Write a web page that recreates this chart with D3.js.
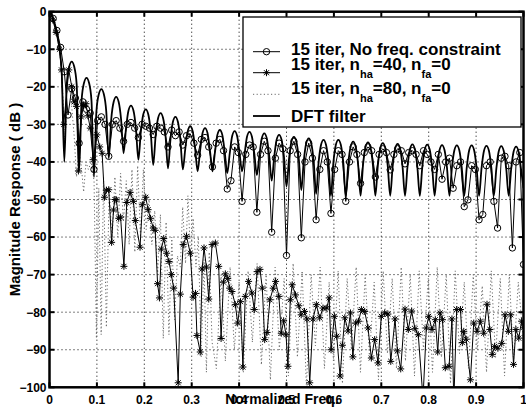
<!DOCTYPE html>
<html>
<head>
<meta charset="utf-8">
<script src="https://cdn.jsdelivr.net/npm/d3@7"></script>
<style>
body { margin: 0; background: #fff; }
svg { display: block; font-family: "Liberation Sans", Arial, Helvetica, sans-serif; font-weight: bold; }
</style>
</head>
<body>
<svg id="chart" width="526" height="409"></svg>
<script>
// axis ticks
const xTicks = [0, 0.1, 0.2, 0.3, 0.4, 0.5, 0.6, 0.7, 0.8, 0.9, 1];
const xTickLabels = ["0", "0.1", "0.2", "0.3", "0.4", "0.5", "0.6", "0.7", "0.8", "0.9", "1"];
const yTicks = [0, -10, -20, -30, -40, -50, -60, -70, -80, -90, -100];
const yTickLabels = ["0", "\u221210", "\u221220", "\u221230", "\u221240", "\u221250", "\u221260", "\u221270", "\u221280", "\u221290", "\u2212100"];

// DFT filter, sampled on a 1/192 grid
const dftDb = [
  0, -0.8, -3, -5.5, -9.5, -17,
  -40, -19.3, -14.6, -13.3, -14.6, -19.3,
  -42.4, -23.6, -18.9, -17.6, -18.9, -23.6,
  -44, -26.6, -21.9, -20.6, -21.9, -26.6,
  -39, -28.7, -24, -22.7, -24, -28.7,
  -37.7, -31, -26.3, -25, -26.3, -31,
  -39.4, -32, -27.3, -26, -27.3, -32,
  -40.8, -33, -28.3, -27, -28.3, -33,
  -41.7, -34, -29.3, -28, -29.3, -34,
  -42, -36.5, -31.8, -30.5, -31.8, -36.5,
  -42.5, -37, -32.3, -31, -32.3, -37,
  -42.5, -37.5, -32.8, -31.5, -32.8, -37.5,
  -43, -37.8, -33.1, -31.8, -33.1, -37.8,
  -42.5, -38, -33.3, -32, -33.3, -38,
  -43.5, -38.4, -33.7, -32.4, -33.7, -38.4,
  -45, -38.8, -34.1, -32.8, -34.1, -38.8,
  -46.5, -39.3, -34.6, -33.3, -34.6, -39.3,
  -47.5, -39.7, -35, -33.7, -35, -39.7,
  -48.5, -40.1, -35.4, -34.1, -35.4, -40.1,
  -49, -40.1, -35.4, -34.1, -35.4, -40.1,
  -49, -40.6, -35.9, -34.6, -35.9, -40.6,
  -49, -40.8, -36.1, -34.8, -36.1, -40.8,
  -49, -41, -36.3, -35, -36.3, -41,
  -49, -41.2, -36.5, -35.2, -36.5, -41.2,
  -49, -41.3, -36.6, -35.3, -36.6, -41.3,
  -49, -41.4, -36.7, -35.4, -36.7, -41.4,
  -49, -41.5, -36.8, -35.5, -36.8, -41.5,
  -49, -41.6, -36.9, -35.6, -36.9, -41.6,
  -49, -41.6, -36.9, -35.6, -36.9, -41.6,
  -49, -41.7, -37, -35.7, -37, -41.7,
  -49, -41.8, -37.1, -35.8, -37.1, -41.8,
  -49, -41.9, -37.2, -35.9, -37.2, -41.9,
  -47
];
const dftF = d3.range(dftDb.length).map(j => j / 192);

// 15 iter, no freq. constraint (circles), 1/128 grid
const circDb = [
  0, -1.8, -5, -9.5, -16, -27.5, -20.5, -23, -35, -24, -26, -27, -42, -29, -28, -30,
  -38.5, -30, -29, -31, -34.5, -30, -29.5, -31, -33.5, -30, -30.5, -31, -32.7, -30.5, -31, -32,
  -36, -31.5, -33, -32, -35.5, -33, -32.5, -35, -38.2, -34, -33.5, -36, -41.3, -35, -34, -37,
  -47.2, -45, -36, -37.5, -50.5, -38, -35.5, -36, -53.4, -38, -34.5, -37, -58.7, -39, -35, -36.5,
  -64.9, -37, -34.5, -38, -60.2, -40, -35, -39, -55.4, -42, -37, -40, -53.7, -42, -37, -38,
  -50.5, -40, -36, -38, -45.7, -37.5, -36, -37, -44, -38, -36.5, -37.5, -42.1, -38, -36.5, -37,
  -40.5, -37.5, -37, -38, -41, -37, -38, -40, -42, -38, -44.6, -40, -39, -47, -41, -40,
  -51.9, -50.1, -41, -42, -55.4, -54, -41, -40, -50.5, -57.6, -39, -38.5, -41, -62.9, -40, -37.5,
  -67.3
];
const circF = d3.range(circDb.length).map(k => k / 128);

// 15 iter, n_ha=40, n_fa=0 (stars)
const starF = [
  0, 0.007, 0.014, 0.021, 0.0253, 0.030, 0.0407, 0.047, 0.052, 0.057, 0.061, 0.067, 0.072, 0.077, 0.081, 0.086,
  0.092, 0.1, 0.106, 0.111, 0.116, 0.12, 0.125, 0.131, 0.135, 0.138, 0.141, 0.146, 0.15, 0.157, 0.163, 0.17,
  0.177, 0.181, 0.191, 0.196, 0.203, 0.208, 0.213, 0.219, 0.223, 0.228, 0.232, 0.236, 0.241, 0.247, 0.252, 0.257,
  0.262, 0.2715, 0.276, 0.282, 0.289, 0.297, 0.303, 0.308, 0.311, 0.318, 0.322, 0.326, 0.331, 0.336, 0.343, 0.35,
  0.357, 0.362, 0.367, 0.371, 0.376, 0.38, 0.385, 0.392, 0.397, 0.403, 0.408, 0.413, 0.42, 0.427, 0.432, 0.438,
  0.444, 0.449, 0.454, 0.459, 0.465, 0.472, 0.477, 0.484, 0.489, 0.494, 0.499, 0.503, 0.508, 0.512, 0.519, 0.526,
  0.531, 0.538, 0.543, 0.549, 0.556, 0.563, 0.57, 0.577, 0.585, 0.59, 0.594, 0.601, 0.606, 0.613, 0.618, 0.623,
  0.63, 0.635, 0.64, 0.646, 0.652, 0.658, 0.665, 0.672, 0.679, 0.686, 0.693, 0.7, 0.707, 0.714, 0.72, 0.729,
  0.734, 0.741, 0.75, 0.757, 0.764, 0.771, 0.778, 0.788, 0.795, 0.8, 0.807, 0.814, 0.819, 0.824, 0.829, 0.835,
  0.843, 0.849, 0.853, 0.859, 0.867, 0.871, 0.874, 0.879, 0.888, 0.895, 0.902, 0.909, 0.916, 0.923, 0.929, 0.934,
  0.939, 0.946, 0.954, 0.961, 0.968, 0.973, 0.979, 0.984, 0.99, 0.996, 1
];
const starDb = [
  0, -2.2, -5.5, -10, -15.5, -30, -15.5, -20, -24, -25.2, -42.4, -28, -25, -24.5, -27.7, -31,
  -39.4, -32.8, -36, -37.7, -49.4, -47.5, -47.4, -61.4, -52.8, -50, -50.1, -55, -54.7, -67.8, -50.8, -48.1,
  -50.5, -55.6, -62.7, -51.4, -49.4, -52.7, -55, -57.6, -58.2, -72.4, -76.2, -63.2, -60.4, -64.3, -66.5, -70,
  -73.6, -98.8, -75.2, -62, -59.8, -64.3, -76, -75, -86.2, -90.6, -68.5, -62.9, -68, -76.5, -62, -61.6,
  -67.8, -87, -72, -69.8, -71, -73.6, -74.5, -78, -82.9, -77.2, -94.6, -75.8, -71.8, -74.9, -79.3, -69.2,
  -68.6, -73.6, -87.3, -85.4, -76.7, -73.6, -71.8, -75.8, -85.6, -82.3, -86, -94.4, -76.7, -72.7, -75.4, -78.3,
  -80.7, -79.8, -81.8, -98.8, -81.8, -78, -81.5, -78.9, -78.9, -76.2, -90, -81.1, -86.4, -97, -88.8, -81.5,
  -85, -80.2, -91.9, -82.9, -82.4, -79.3, -79.8, -84.2, -92.2, -87.3, -93.5, -81.1, -80.2, -80.5, -93.1, -81.8,
  -90.3, -95.1, -79.2, -84.6, -79.7, -84.4, -86, -103, -84.2, -81.1, -84.6, -82, -90.6, -80.2, -82, -94.8,
  -94.4, -81.8, -104, -79.3, -79.3, -88.1, -85.1, -87.2, -98, -82.9, -85.1, -82.4, -85.6, -77.9, -84.6, -91.3,
  -89.1, -89.6, -88.3, -80.7, -85.1, -80.7, -93.9, -84.6, -86.9, -82.4, -84
];

// 15 iter, n_ha=80, n_fa=0 (dotted)
const dotF = [
  0, 0.007, 0.014, 0.021, 0.026, 0.032, 0.036, 0.041, 0.046, 0.052, 0.057, 0.062, 0.067, 0.072, 0.077, 0.082,
  0.088, 0.094, 0.099, 0.104, 0.109, 0.114, 0.12, 0.126, 0.132, 0.138, 0.144, 0.15, 0.156, 0.162, 0.168, 0.174,
  0.18, 0.186, 0.192, 0.198, 0.204, 0.21, 0.216, 0.222, 0.228, 0.234, 0.24, 0.246, 0.252, 0.258, 0.264, 0.27,
  0.276, 0.281, 0.287, 0.292, 0.298, 0.303, 0.309, 0.314, 0.32, 0.326, 0.331, 0.337, 0.343, 0.352, 0.362, 0.371,
  0.381, 0.39, 0.4, 0.409, 0.419, 0.428, 0.438, 0.447, 0.457, 0.466, 0.476, 0.485, 0.495, 0.504, 0.514, 0.523,
  0.533, 0.542, 0.552, 0.561, 0.571, 0.58, 0.59, 0.599, 0.609, 0.618, 0.628, 0.637, 0.647, 0.656, 0.666, 0.675,
  0.685, 0.694, 0.704, 0.713, 0.723, 0.732, 0.742, 0.751, 0.761, 0.77, 0.78, 0.789, 0.799, 0.808, 0.818, 0.827,
  0.837, 0.846, 0.856, 0.865, 0.875, 0.884, 0.894, 0.903, 0.913, 0.922, 0.932, 0.941, 0.951, 0.96, 0.97, 0.979,
  0.989, 1
];
const dotDb = [
  0, -2, -5.5, -10, -16, -34, -22, -19, -24, -33, -44, -37, -41, -48, -40, -42,
  -40, -45, -87, -47, -86, -44, -84, -47, -61, -44, -60, -43, -56, -45, -62, -42,
  -64, -41, -60, -42, -58, -50, -62, -53, -70, -54, -87, -56, -86, -60, -82, -65,
  -68, -52, -67, -49, -66, -55, -68, -60, -92, -66, -96, -64, -88, -95, -70, -93,
  -68, -90, -72, -96, -69, -88, -67, -94, -70, -98, -68, -90, -71, -97, -67, -92,
  -69, -100, -70, -89, -68, -95, -72, -93, -69, -99, -71, -90, -68, -96, -70, -92,
  -72, -98, -69, -91, -71, -95, -68, -93, -70, -97, -69, -90, -71, -96, -68, -92,
  -70, -99, -69, -91, -72, -95, -70, -90, -73, -96, -69, -92, -71, -97, -70, -93,
  -72, -88
];

const legendLabels = ["15 iter, No freq. constraint", "15 iter, n|ha|=40, n|fa|=0", "15 iter, n|ha|=80, n|fa|=0", "DFT filter"];

const svg = d3.select("#chart");
const pL = 49.5, pR = 523.5, pT = 11.7, pB = 387.3;

const x = d3.scaleLinear().domain([0, 1]).range([pL, pR]);
const y = d3.scaleLinear().domain([-100, 0]).range([pB, pT]);

svg.append("rect").attr("width", 526).attr("height", 409).attr("fill", "#fff");

svg.append("defs").append("clipPath").attr("id", "plotclip")
  .append("rect")
  .attr("x", pL).attr("y", pT)
  .attr("width", pR - pL).attr("height", pB - pT);

// dotted grid
const grid = svg.append("g").attr("stroke", "#000").attr("stroke-width", 1).attr("stroke-dasharray", "1,3");
grid.selectAll(".gx").data(xTicks.slice(1, -1)).enter().append("line")
  .attr("x1", d => x(d)).attr("x2", d => x(d))
  .attr("y1", pT).attr("y2", pB);
grid.selectAll(".gy").data(yTicks.slice(1, -1)).enter().append("line")
  .attr("x1", pL).attr("x2", pR)
  .attr("y1", d => y(d)).attr("y2", d => y(d));

const plot = svg.append("g").attr("clip-path", "url(#plotclip)");

const line = d3.line().x(d => x(d[0])).y(d => y(d[1]));

const circData = circF.map((f, i) => [f, circDb[i]]);
const starData = starF.map((f, i) => [f, starDb[i]]);
const dotData = dotF.map((f, i) => [f, dotDb[i]]);
const dftData = dftF.map((f, i) => [f, dftDb[i]]);

function starPath(r) {
  const d = r * 0.72;
  return `M${-r},0L${r},0M0,${-r}L0,${r}M${-d},${-d}L${d},${d}M${-d},${d}L${d},${-d}`;
}

// dotted series
plot.append("path").datum(dotData)
  .attr("fill", "none").attr("stroke", "#6a6a6a").attr("stroke-width", 1)
  .attr("stroke-dasharray", "1.2,2.4")
  .attr("d", line);

// star series
plot.append("path").datum(starData)
  .attr("fill", "none").attr("stroke", "#000").attr("stroke-width", 1)
  .attr("d", line);
plot.selectAll(".star").data(starData).enter().append("path")
  .attr("transform", d => "translate(" + x(d[0]) + "," + y(d[1]) + ")")
  .attr("d", starPath(3.5))
  .attr("stroke", "#000").attr("stroke-width", 1).attr("fill", "none");

// circle series
plot.append("path").datum(circData)
  .attr("fill", "none").attr("stroke", "#000").attr("stroke-width", 1)
  .attr("d", line);
plot.selectAll(".circ").data(circData).enter().append("circle")
  .attr("cx", d => x(d[0])).attr("cy", d => y(d[1])).attr("r", 3.2)
  .attr("stroke", "#000").attr("stroke-width", 1).attr("fill", "none");

// DFT filter
const dftLine = d3.line().x(d => x(d[0])).y(d => y(d[1])).curve(d3.curveMonotoneX);
plot.append("path").datum(dftData)
  .attr("fill", "none").attr("stroke", "#000").attr("stroke-width", 1.8)
  .attr("d", dftLine);

// frame and ticks
const tickLen = 5;
const axes = svg.append("g").attr("stroke", "#000").attr("stroke-width", 2);
axes.append("rect")
  .attr("x", pL).attr("y", pT)
  .attr("width", pR - pL).attr("height", pB - pT)
  .attr("fill", "none").attr("stroke-width", 2.5);
axes.selectAll(".tb").data(xTicks).enter().append("line")
  .attr("x1", d => x(d)).attr("x2", d => x(d))
  .attr("y1", pB).attr("y2", pB - tickLen);
axes.selectAll(".tt").data(xTicks).enter().append("line")
  .attr("x1", d => x(d)).attr("x2", d => x(d))
  .attr("y1", pT).attr("y2", pT + tickLen);
axes.selectAll(".tl").data(yTicks).enter().append("line")
  .attr("x1", pL).attr("x2", pL + tickLen)
  .attr("y1", d => y(d)).attr("y2", d => y(d));
axes.selectAll(".tr").data(yTicks).enter().append("line")
  .attr("x1", pR).attr("x2", pR - tickLen)
  .attr("y1", d => y(d)).attr("y2", d => y(d));

// tick labels
svg.selectAll(".xl").data(xTicks).enter().append("text")
  .attr("x", d => x(d)).attr("y", 403.5)
  .attr("text-anchor", "middle").attr("font-size", 12)
  .text((d, i) => xTickLabels[i]);
svg.selectAll(".yl").data(yTicks).enter().append("text")
  .attr("x", pL - 3).attr("y", d => y(d)).attr("dy", "0.36em")
  .attr("text-anchor", "end").attr("font-size", 12)
  .text((d, i) => yTickLabels[i]);

// axis labels (the x label overlaps the middle tick labels, as in the original)
svg.append("text")
  .attr("x", 282).attr("y", 403.5)
  .attr("text-anchor", "middle").attr("font-size", 14)
  .text("Normalized Freq.");
svg.append("text")
  .attr("transform", "translate(19.5,199.5) rotate(-90)")
  .attr("text-anchor", "middle").attr("font-size", 15)
  .text("Magnitude Response ( dB )");

// legend
const lg = svg.append("g");
lg.append("rect")
  .attr("x", 243).attr("y", 17).attr("width", 278).attr("height", 110)
  .attr("fill", "#fff").attr("stroke", "#000").attr("stroke-width", 1.3);

const rowY = [51.7, 72.7, 94.3, 116];
const textY = [55, 70, 94, 121.5];
const sx1 = 253, sx2 = 280, smid = (sx1 + sx2) / 2;

lg.append("line").attr("x1", sx1).attr("x2", sx2).attr("y1", rowY[0]).attr("y2", rowY[0])
  .attr("stroke", "#000").attr("stroke-width", 1);
lg.append("circle").attr("cx", smid).attr("cy", rowY[0]).attr("r", 3.2)
  .attr("stroke", "#000").attr("fill", "none");
lg.append("line").attr("x1", sx1).attr("x2", sx2).attr("y1", rowY[1]).attr("y2", rowY[1])
  .attr("stroke", "#000").attr("stroke-width", 1);
lg.append("path").attr("transform", "translate(" + smid + "," + rowY[1] + ")")
  .attr("d", starPath(3.5)).attr("stroke", "#000").attr("fill", "none");
lg.append("line").attr("x1", sx1).attr("x2", sx2).attr("y1", rowY[2]).attr("y2", rowY[2])
  .attr("stroke", "#6a6a6a").attr("stroke-width", 1).attr("stroke-dasharray", "1.2,2.4");
lg.append("line").attr("x1", sx1).attr("x2", sx2).attr("y1", rowY[3]).attr("y2", rowY[3])
  .attr("stroke", "#000").attr("stroke-width", 1.8);

legendLabels.forEach((lab, i) => {
  const t = lg.append("text").attr("x", 291).attr("y", textY[i]).attr("font-size", 17);
  const parts = lab.split("|");
  parts.forEach((p, j) => {
    const ts = t.append("tspan").text(p);
    if (j % 2 === 1) {
      ts.attr("font-size", 11).attr("dy", 7.5);
    } else if (j > 0) {
      ts.attr("dy", -7.5);
    }
  });
});
</script>
</body>
</html>
